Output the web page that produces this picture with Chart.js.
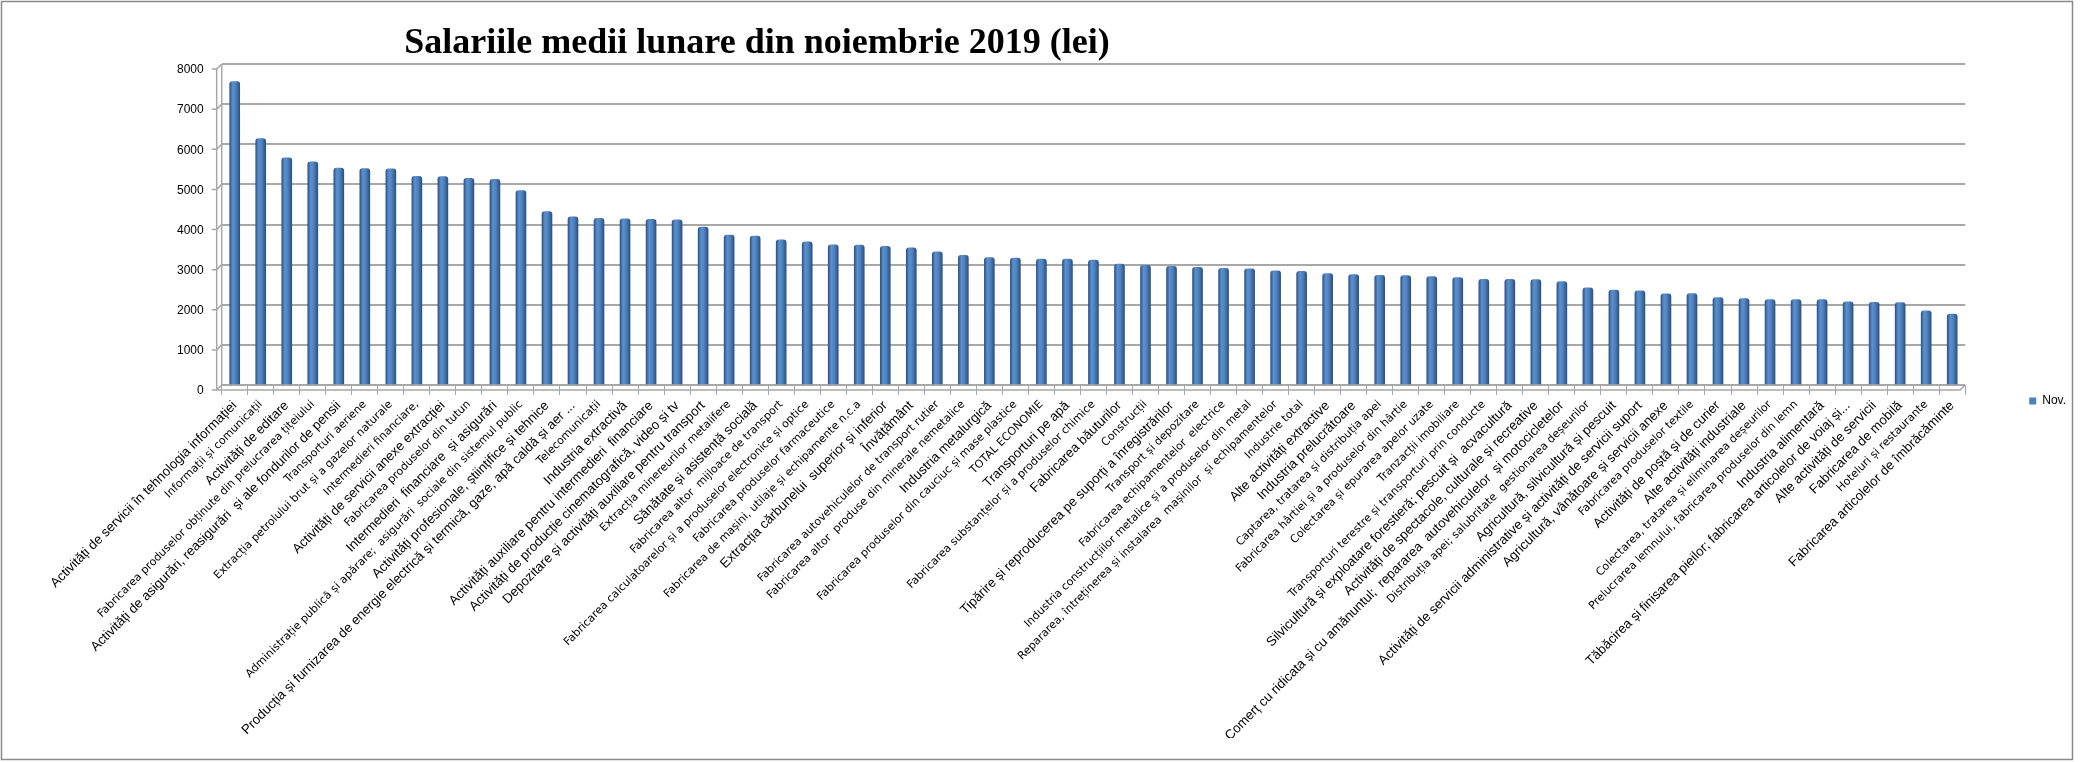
<!DOCTYPE html>
<html lang="ro">
<head>
	<meta charset="utf-8" />
	<title>Salariile medii lunare din noiembrie 2019 (lei)</title>
	<style>
		body { margin: 0; background: #fff; }
		#c1 { display: block; }
	</style>
</head>
<body>
	<canvas id="c1" width="2080" height="762"></canvas>
	<script src="https://cdn.jsdelivr.net/npm/chart.js@4.4.0/dist/chart.umd.min.js"></script>
	<script>
	var chartTitle = 'Salariile medii lunare din noiembrie 2019 (lei)';
	var seriesName = 'Nov.';
	var yMin = 0, yMax = 8000, yStep = 1000;

	var categories = [
		'Activități de servicii în tehnologia informației',
		'Informații și comunicații',
		'Activități de editare',
		'Fabricarea produselor obținute din prelucrarea țițeiului',
		'Activități de asigurări, reasigurări  și ale fondurilor de pensii',
		'Transporturi aeriene',
		'Extracția petrolului brut și a gazelor naturale',
		'Intermedieri financiare,',
		'Activități de servicii anexe extracției',
		'Fabricarea produselor din tutun',
		'Intermedieri  financiare  și asigurări',
		'Administrație publică și apărare;  asigurări  sociale din sistemul public',
		'Activități profesionale, științifice și tehnice',
		'Producția și furnizarea de energie electrică și termică, gaze, apă caldă și aer ...',
		'Telecomunicații',
		'Industria extractivă',
		'Activități auxiliare pentru intermedieri  financiare',
		'Activități de producție cinematografică, video și tv',
		'Depozitare și activități auxiliare pentru transport',
		'Extracția minereurilor metalifere',
		'Sănătate și asistență socială',
		'Fabricarea altor  mijloace de transport',
		'Fabricarea calculatoarelor și a produselor electronice și optice',
		'Fabricarea produselor farmaceutice',
		'Fabricarea de mașini, utilaje și echipamente n.c.a',
		'Extracția cărbunelui  superior și inferior',
		'Învățământ',
		'Fabricarea autovehiculelor de transport rutier',
		'Fabricarea altor  produse din minerale nemetalice',
		'Industria metalurgică',
		'Fabricarea produselor din cauciuc și mase plastice',
		'TOTAL ECONOMIE',
		'Transporturi pe apă',
		'Fabricarea substanțelor și a produselor chimice',
		'Fabricarea băuturilor',
		'Construcții',
		'Tipărire și reproducerea pe suporți a înregistrărilor',
		'Transport și depozitare',
		'Fabricarea echipamentelor  electrice',
		'Industria construcțiilor metalice și a produselor din metal',
		'Repararea, întreținerea și instalarea  mașinilor  și echipamentelor',
		'Industrie total',
		'Alte activități extractive',
		'Industria prelucrătoare',
		'Captarea, tratarea și distribuția apei',
		'Fabricarea hârtiei și a produselor din hârtie',
		'Colectarea și epurarea apelor uzate',
		'Tranzacții imobiliare',
		'Transporturi terestre și transporturi prin conducte',
		'Silvicultură și exploatare forestieră; pescuit și  acvacultură',
		'Activități de spectacole, culturale și recreative',
		'Comerț cu ridicata și cu amănuntul;  repararea  autovehiculelor  și motocicletelor',
		'Distribuția apei; salubritate  gestionarea deșeurilor',
		'Agricultură, silvicultură și pescuit',
		'Activități de servicii administrative și activități de servicii suport',
		'Agricultură, vânătoare și servicii anexe',
		'Fabricarea produselor textile',
		'Activități de poștă și de curier',
		'Alte activități industriale',
		'Colectarea, tratarea și eliminarea deșeurilor',
		'Prelucrarea lemnului, fabricarea produselor din lemn',
		'Industria alimentară',
		'Tăbăcirea și finisarea pieilor; fabricarea articolelor de voiaj și...',
		'Alte activități de servicii',
		'Fabricarea de mobilă',
		'Hoteluri și restaurante',
		'Fabricarea articolelor de îmbrăcăminte'
	];

	var novValues = [
		7560, 6140, 5660, 5560, 5405, 5395, 5385, 5200, 5195, 5150,
		5125, 4845, 4320, 4190, 4155, 4140, 4130, 4115, 3935, 3735,
		3710, 3620, 3570, 3495, 3490, 3455, 3420, 3320, 3230, 3175,
		3165, 3140, 3140, 3115, 3015, 2985, 2955, 2935, 2910, 2895,
		2845, 2835, 2775, 2750, 2735, 2725, 2700, 2680, 2635, 2635,
		2630, 2580, 2420, 2365, 2350, 2275, 2280, 2180, 2155, 2130,
		2130, 2130, 2075, 2060, 2055, 1850, 1770
	];

	// labels that excel draws in the bigger font
	var bigLabels = [0, 2, 4, 8, 10, 12, 13, 15, 16, 17, 18, 20, 25, 26, 29, 32, 34, 36,
		42, 43, 49, 50, 51, 53, 54, 55, 57, 58, 61, 62, 63, 64, 66];

	var barColor = '#4F81BD';
	var gridColor = '#a8a8a8';

	function cylinderFill(context)
	{
		var chart = context.chart;
		if (!chart.chartArea || context.type !== 'data') {
			return barColor;
		}
		var x = chart.scales.x.getPixelForValue(context.dataIndex);
		var g = chart.ctx.createLinearGradient(x - 5, 0, x + 5, 0);
		g.addColorStop(0, '#2c5588');
		g.addColorStop(0.3, '#5d90d0');
		g.addColorStop(0.6, '#4f81bd');
		g.addColorStop(1, '#2b5282');
		return g;
	}

	var framePlugin = {
		id: 'frame',
		beforeDraw: function(chart) {
			var ctx = chart.ctx;
			ctx.save();
			ctx.fillStyle = '#fff';
			ctx.fillRect(0, 0, chart.width, chart.height);
			ctx.strokeStyle = '#8a8a8a';
			ctx.lineWidth = 1.5;
			ctx.strokeRect(1.5, 1.5, 2071, 758);
			ctx.restore();
		},
		beforeDatasetsDraw: function(chart) {
			// fake 3d floor and left wall edge
			var ctx = chart.ctx, a = chart.chartArea;
			var d = 5;
			ctx.save();
			ctx.strokeStyle = gridColor;
			ctx.lineWidth = 1.5;
			ctx.beginPath();
			ctx.moveTo(a.left, a.top);
			ctx.lineTo(a.left, a.bottom);
			ctx.moveTo(a.left - d, a.top + d);
			ctx.lineTo(a.left - d, a.bottom + d);
			ctx.lineTo(a.right - d, a.bottom + d);
			ctx.lineTo(a.right, a.bottom);
			chart.scales.y.ticks.forEach(function(t) {
				var y = chart.scales.y.getPixelForValue(t.value);
				ctx.moveTo(a.left - d - 5, y + d);
				ctx.lineTo(a.left - d, y + d);
				ctx.lineTo(a.left, y);
			});
			ctx.stroke();
			ctx.restore();
		},
		afterDraw: function(chart) {
			var ctx = chart.ctx;
			ctx.save();
			ctx.fillStyle = '#000';
			ctx.font = 'bold 36px "Liberation Serif"';
			ctx.textAlign = 'center';
			ctx.textBaseline = 'alphabetic';
			ctx.fillText(chartTitle, 757, 53);
			ctx.restore();
		}
	};

	var config = {
		type: 'bar',
		plugins: [framePlugin],
		data: {
			labels: categories,
			datasets: [{
				label: seriesName,
				data: novValues,
				backgroundColor: cylinderFill,
				barThickness: 10,
				borderRadius: 3
			}]
		},
		options: {
			responsive: false,
			animation: false,
			layout: {
				padding: {top: 64, left: 159, right: 4, bottom: 24}
			},
			plugins: {
				title: {display: false},
				tooltip: {enabled: false},
				legend: {
					position: 'right',
					labels: {
						boxWidth: 7,
						boxHeight: 7,
						padding: 64,
						color: '#000',
						font: {family: 'Liberation Sans', size: 12},
						generateLabels: function(chart) {
							return [{text: seriesName, fillStyle: barColor, strokeStyle: barColor, lineWidth: 0, datasetIndex: 0}];
						}
					}
				}
			},
			scales: {
				x: {
					afterFit: function(scale) {
						scale.paddingLeft = 0;
						scale.paddingRight = 0;
						scale.height = 353;
					},
					grid: {
						offset: true,
						drawOnChartArea: false,
						tickLength: 10,
						color: gridColor
					},
					border: {display: false},
					ticks: {
						autoSkip: false,
						maxRotation: 45,
						minRotation: 45,
						padding: 3,
						color: '#000',
						font: function(context) {
							if (bigLabels.indexOf(context.index) >= 0) {
								return {family: 'Liberation Sans', size: 13.3};
							}
							return {family: 'DejaVu Sans', size: 11};
						}
					}
				},
				y: {
					min: yMin,
					max: yMax,
					grid: {
						color: gridColor,
						lineWidth: 2,
						drawTicks: false
					},
					border: {display: false},
					ticks: {
						stepSize: yStep,
						padding: 18,
						labelOffset: 6,
						color: '#000',
						font: {family: 'Liberation Sans', size: 12},
						callback: function(value) {
							return String(value);
						}
					}
				}
			}
		}
	};

	var chart = new Chart(document.getElementById('c1'), config);
	</script>
</body>
</html>
